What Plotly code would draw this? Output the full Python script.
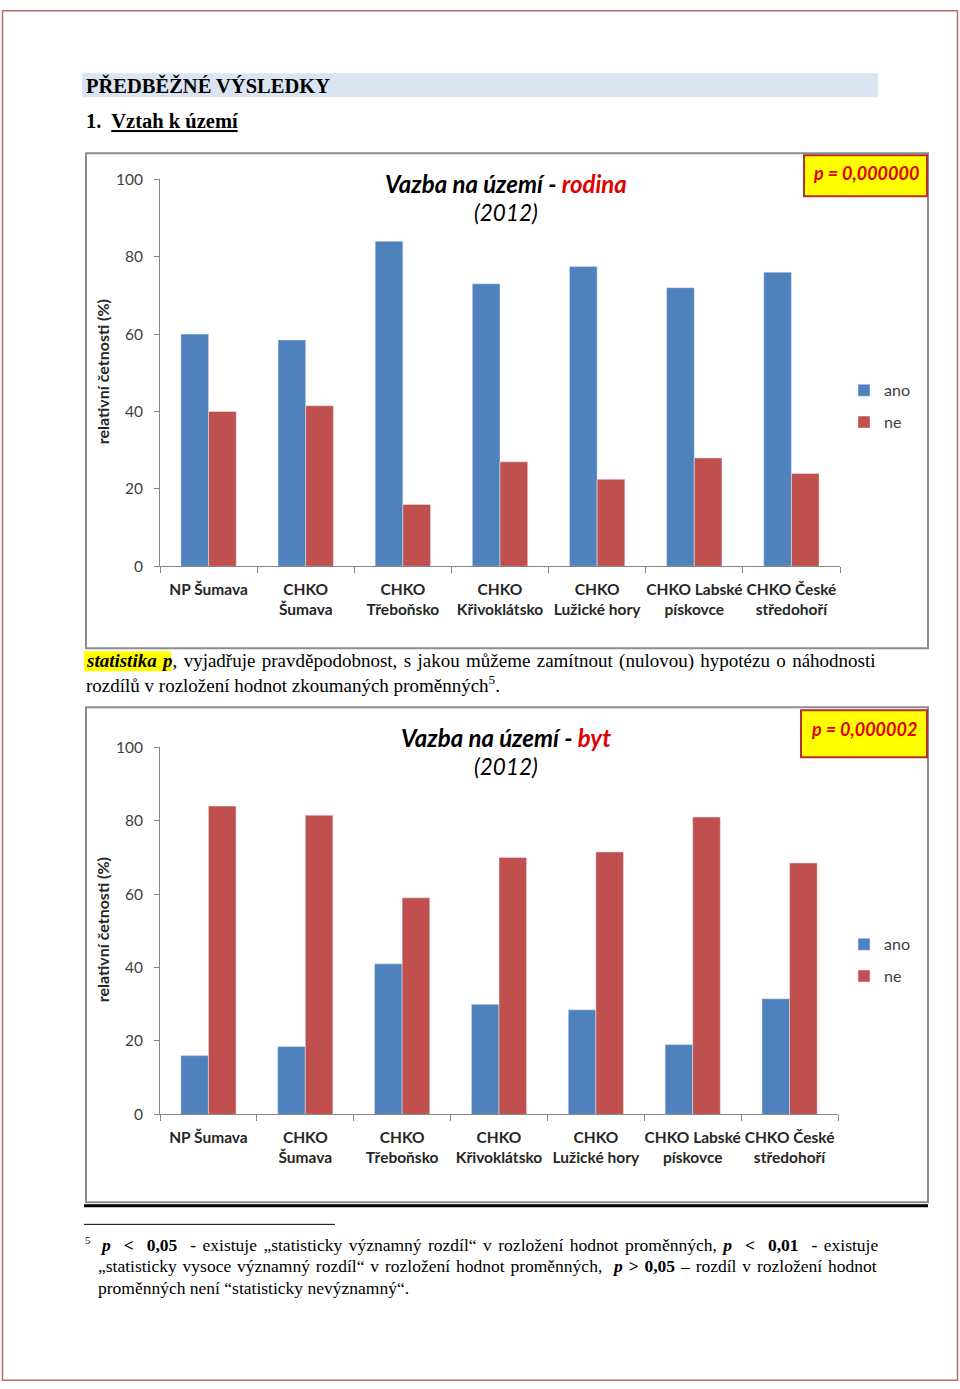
import plotly.graph_objects as go

W, H = 960, 1389

categories = ["NP Šumava", "CHKO<br>Šumava", "CHKO<br>Třeboňsko", "CHKO<br>Křivoklátsko",
              "CHKO<br>Lužické hory", "CHKO Labské<br>pískovce", "CHKO České<br>středohoří"]
series_names = ["ano", "ne"]

rodina_ano = [60, 58.5, 84, 73, 77.5, 72, 76]
rodina_ne = [40, 41.5, 16, 27, 22.5, 28, 24]

byt_ano = [16, 18.5, 41, 30, 28.5, 19, 31.5]
byt_ne = [84, 81.5, 59, 70, 71.5, 81, 68.5]

y_ticks = [0, 20, 40, 60, 80, 100]

p_rodina = "p = 0,000000"
p_byt = "p = 0,000002"

BLUE = "#4f81bd"
RED = "#c0504d"

# the photographed page shows the figure slightly compressed vertically; compensate
OFF, SC = 9.7, 0.987


def px(x):
    return x / W


def py(y):
    yf = (y - OFF) / SC
    yf = min(max(yf, 0.8), H - 0.8)
    return 1 - yf / H


fig = go.Figure()

fig.add_trace(go.Bar(x=categories, y=rodina_ano, name=series_names[0], marker_color=BLUE,
                     xaxis="x", yaxis="y", legend="legend", legendgroup="a"))
fig.add_trace(go.Bar(x=categories, y=rodina_ne, name=series_names[1], marker_color=RED,
                     xaxis="x", yaxis="y", legend="legend", legendgroup="b"))
fig.add_trace(go.Bar(x=categories, y=byt_ano, name=series_names[0], marker_color=BLUE,
                     xaxis="x2", yaxis="y2", legend="legend2", legendgroup="c"))
fig.add_trace(go.Bar(x=categories, y=byt_ne, name=series_names[1], marker_color=RED,
                     xaxis="x2", yaxis="y2", legend="legend2", legendgroup="d"))

AXC = "#868686"
TXT = "#262626"
xcommon = dict(showline=True, linecolor=AXC, linewidth=1, ticks="outside", ticklen=6,
               tickcolor=AXC, tickson="boundaries", tickangle=0, showgrid=False,
               tickfont=dict(family="Lato", size=15.5, color=TXT, weight="bold"),
               fixedrange=True, ticklabelstandoff=9)
ycommon = dict(range=[0, 100], tickvals=y_ticks, showline=True, linecolor=AXC, linewidth=1,
               ticks="outside", ticklen=5, tickcolor=AXC, showgrid=False, zeroline=False,
               tickfont=dict(family="Lato", size=15.5, color="#404040"), ticklabelstandoff=8)

legend_common = dict(xanchor="left", yanchor="top", traceorder="grouped", tracegroupgap=8,
                     font=dict(family="Lato", size=16, color="#404040"), itemwidth=30,
                     bgcolor="rgba(0,0,0,0)")

fig.update_layout(
    width=W, height=H,
    margin=dict(l=0, r=0, t=0, b=0),
    paper_bgcolor="white", plot_bgcolor="white",
    barmode="group", bargap=0.43, bargroupgap=0,
    xaxis=dict(domain=[px(160), px(840)], anchor="y", **xcommon),
    yaxis=dict(domain=[py(566), py(179)], anchor="x", **ycommon),
    xaxis2=dict(domain=[px(160), px(838)], anchor="y2", **xcommon),
    yaxis2=dict(domain=[py(1114), py(747)], anchor="x2", **ycommon),
    legend=dict(x=px(844), y=py(373), **legend_common),
    legend2=dict(x=px(844), y=py(927), **legend_common),
    showlegend=True,
)

shapes = []
# page border
shapes.append(dict(type="rect", xref="paper", yref="paper", x0=px(2.5), x1=px(957.5),
                   y0=py(2.5), y1=py(1386.5), line=dict(color="#b86a6a", width=1.5)))
# header band
shapes.append(dict(type="rect", xref="paper", yref="paper", x0=px(82), x1=px(878),
                   y0=py(73), y1=py(97), fillcolor="#dbe5f1", line=dict(width=0), layer="below"))
# chart frames
for (y0, y1) in [(153, 648), (707, 1202)]:
    shapes.append(dict(type="rect", xref="paper", yref="paper", x0=px(86), x1=px(928),
                       y0=py(y0), y1=py(y1), line=dict(color="#8c8c8c", width=2)))
# black separator under chart 2
shapes.append(dict(type="line", xref="paper", yref="paper", x0=px(84), x1=px(928),
                   y0=py(1205.5), y1=py(1205.5), line=dict(color="black", width=3)))
# p boxes
shapes.append(dict(type="rect", xref="paper", yref="paper", x0=px(804), x1=px(927),
                   y0=py(155), y1=py(196), fillcolor="#ffff00", line=dict(color="#b03030", width=2)))
shapes.append(dict(type="rect", xref="paper", yref="paper", x0=px(801), x1=px(927),
                   y0=py(710), y1=py(757), fillcolor="#ffff00", line=dict(color="#b03030", width=2)))
# highlight statistika p
shapes.append(dict(type="rect", xref="paper", yref="paper", x0=px(84), x1=px(171),
                   y0=py(651), y1=py(671), fillcolor="#ffff00", line=dict(width=0), layer="below"))
# footnote rule
shapes.append(dict(type="line", xref="paper", yref="paper", x0=px(84), x1=px(335),
                   y0=py(1224), y1=py(1224), line=dict(color="black", width=1)))
fig.update_layout(shapes=shapes)

ann = []


def A(text, x, y, size, family="Liberation Serif", color="black", xanchor="left", **kw):
    ann.append(dict(text=text, x=px(x), y=py(y), xref="paper", yref="paper", showarrow=False,
                    xanchor=xanchor, yanchor="middle", font=dict(family=family, size=size, color=color),
                    **kw))


A("<b>PŘEDBĚŽNÉ VÝSLEDKY</b>", 84, 85, 20.5)
A("<b>1.  <u>Vztah k území</u></b>", 84, 121, 20.5)

# chart titles
A("<b><i>Vazba na území - <span style='color:#e00000'>rodina</span></i></b>", 506, 183, 24,
  family="Lato", xanchor="center")
A("<i>(2012)</i>", 506, 212, 22.5, family="Lato", xanchor="center")
A("<b><i>Vazba na území - <span style='color:#e00000'>byt</span></i></b>", 506, 737, 24,
  family="Lato", xanchor="center")
A("<i>(2012)</i>", 506, 766, 22.5, family="Lato", xanchor="center")

A("<b><i>" + p_rodina + "</i></b>", 866, 173, 18, family="Lato", color="#e00000", xanchor="center")
A("<b><i>" + p_byt + "</i></b>", 864, 729, 18, family="Lato", color="#e00000", xanchor="center")

# y-axis titles
A("<b>relativní četnosti (%)</b>", 102, 372, 16, family="Lato", color=TXT, xanchor="center",
  textangle=-90)
A("<b>relativní četnosti (%)</b>", 102, 930, 16, family="Lato", color=TXT, xanchor="center",
  textangle=-90)

# paragraph
A("<span style='word-spacing:1.6px'><b><i>statistika p</i></b>, vyjadřuje pravděpodobnost, s jakou můžeme zamítnout (nulovou) hypotézu o náhodnosti</span>",
  84, 661, 19)
A("rozdílů v rozložení hodnot zkoumaných proměnných<sup>5</sup>.", 84, 684, 19)

# footnote
A("<sup>5</sup>", 83, 1240, 15)
A("<span style='word-spacing:2.1px'><b><i>p</i></b>  <b>&lt;  0,05</b>  <b>-</b> existuje „statisticky významný rozdíl“ v rozložení hodnot proměnných, <b><i>p</i></b>  <b>&lt;  0,01</b>  <b>-</b> existuje</span>",
  98, 1245, 17.5)
A("<span style='word-spacing:1.5px'>„statisticky vysoce významný rozdíl“ v rozložení hodnot proměnných,  <b><i>p</i> &gt; 0,05</b> – rozdíl v rozložení hodnot</span>",
  96, 1266, 17.5)
A("proměnných není “statisticky nevýznamný“.", 96, 1288, 17.5)

fig.update_layout(annotations=ann)

fig.write_html("out.html")
